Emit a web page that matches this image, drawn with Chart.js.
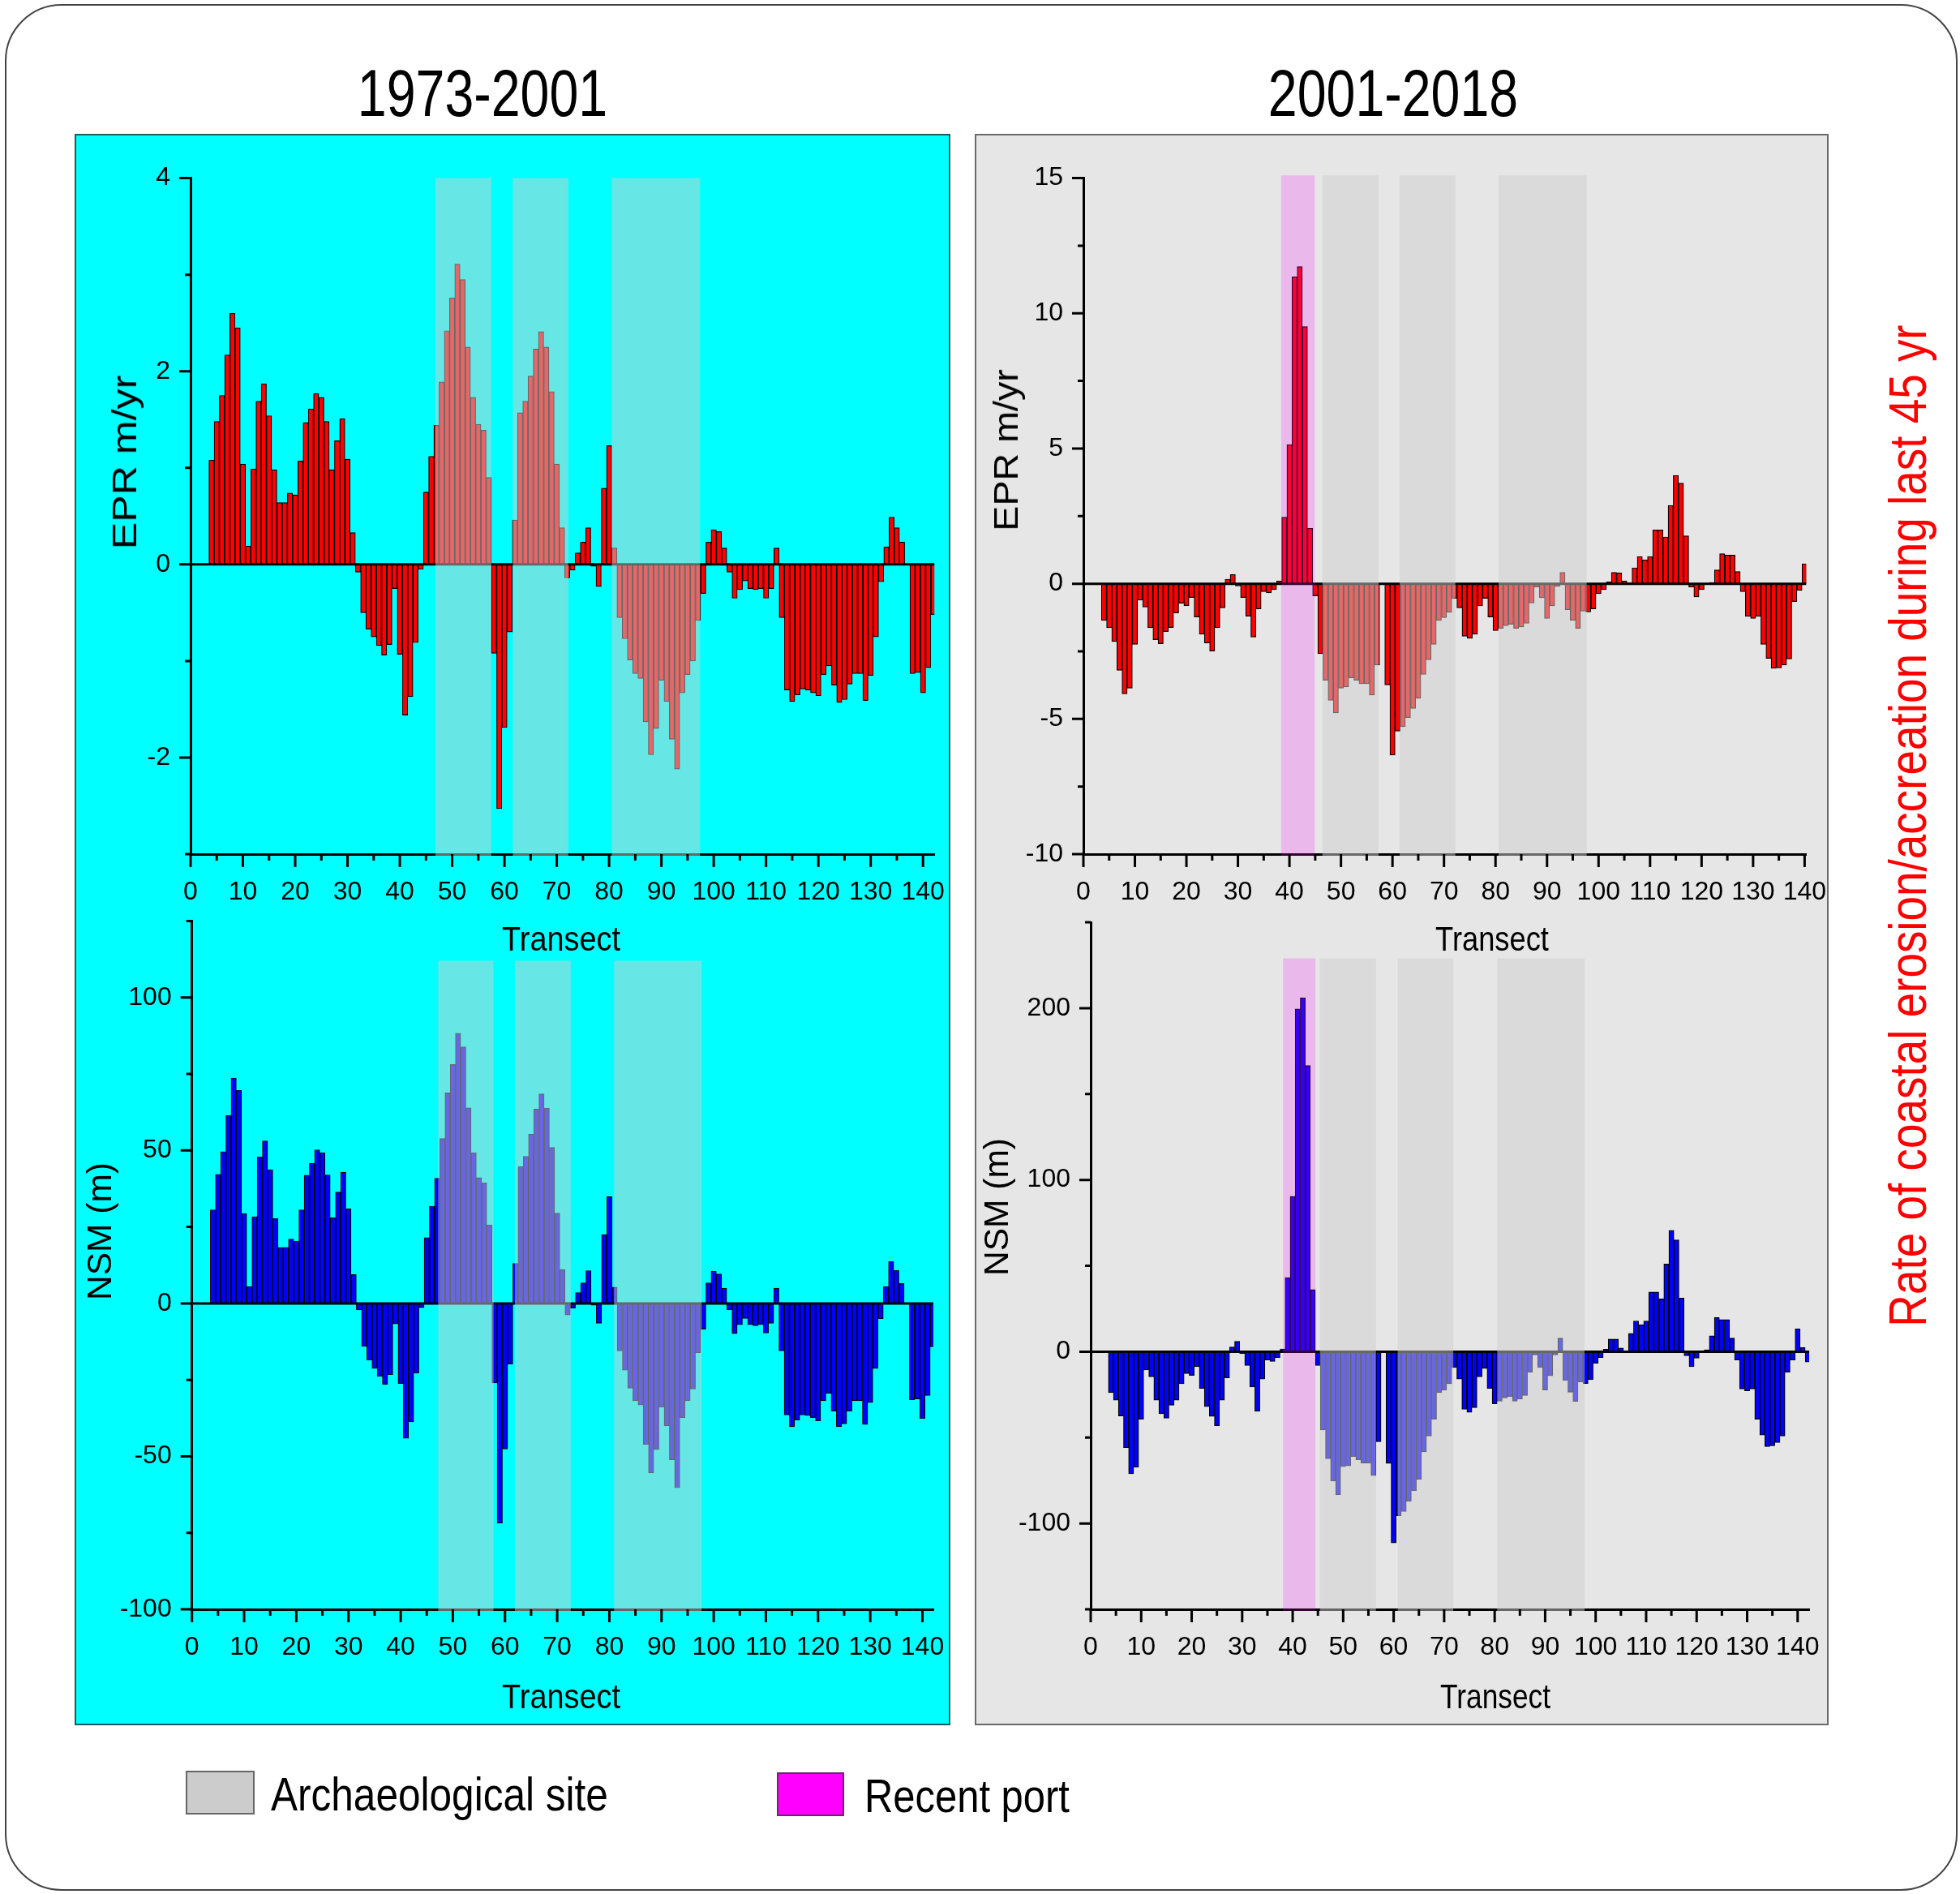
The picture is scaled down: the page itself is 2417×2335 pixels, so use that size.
<!DOCTYPE html>
<html lang="en">
<head>
<meta charset="UTF-8">
<title>EPR and NSM along transects, 1973-2001 and 2001-2018</title>
<script src="https://cdnjs.cloudflare.com/ajax/libs/Chart.js/4.4.1/chart.umd.min.js"></script>
<style>
  body { margin: 0; background: #fff; font-family: 'Liberation Sans', Arial, sans-serif; }
  #page { position: relative; width: 2417px; height: 2335px; overflow: hidden; }
  .frame { position: absolute; left: 6px; top: 5px; width: 2408px; height: 2326px; box-sizing: border-box;
           border: 2px solid #444; border-radius: 70px; }
  .panel { position: absolute; box-sizing: border-box; }
  #panelLeft { left: 92px; top: 165px; width: 1080px; height: 1962px; background: #00ffff; border: 2px solid #1d5c5c; }
  #panelRight { left: 1202px; top: 165px; width: 1053px; height: 1962px; background: #e6e6e6; border: 2px solid #6a6a6a; }
  canvas { position: absolute; }
  .txt { position: absolute; white-space: nowrap; line-height: 1; color: #000; }
  .title { font-size: 81px; }
  .axt { font-size: 42px; }
  .leg { font-size: 58px; }
  .side { font-size: 65px; color: #ff0000; }
  .box { position: absolute; box-sizing: border-box; }
</style>
</head>
<body>
<div id="page">
  <div class="frame"></div>
  <div class="panel" id="panelLeft"></div>
  <div class="panel" id="panelRight"></div>

  <div class="txt title" style="left:595px; top:115px" data-w="308">1973-2001</div>
  <div class="txt title" style="left:1718px; top:115px" data-w="308">2001-2018</div>

  <canvas id="cTL"></canvas>
  <canvas id="cBL"></canvas>
  <canvas id="cTR"></canvas>
  <canvas id="cBR"></canvas>

  <div class="txt axt" style="left:692px; top:1158px" data-w="146">Transect</div>
  <div class="txt axt" style="left:692px; top:2092px" data-w="146">Transect</div>
  <div class="txt axt" style="left:1840px; top:1158px" data-w="140">Transect</div>
  <div class="txt axt" style="left:1844px; top:2092px" data-w="136">Transect</div>

  <div class="txt axt" style="left:154px; top:570px" data-w="215" data-rot="1">EPR m/yr</div>
  <div class="txt axt" style="left:123px; top:1518px" data-w="170" data-rot="1">NSM (m)</div>
  <div class="txt axt" style="left:1241px; top:555px" data-w="200" data-rot="1">EPR m/yr</div>
  <div class="txt axt" style="left:1229px; top:1488px" data-w="170" data-rot="1">NSM (m)</div>

  <div class="txt side" style="left:2352px; top:1018px" data-w="1235" data-rot="1">Rate of coastal erosion/accreation during last 45 yr</div>

  <div class="box" style="left:229px; top:2183px; width:85px; height:54px; background:#cccccc; border:2px solid #666"></div>
  <div class="txt leg" style="left:334px; top:2212px" data-w="416" data-anchor="left">Archaeological site</div>
  <div class="box" style="left:958px; top:2185px; width:83px; height:54px; background:#ff00ff; border:2px solid #6a2a6a"></div>
  <div class="txt leg" style="left:1066px; top:2214px" data-w="253" data-anchor="left">Recent port</div>
</div>

<script>
// transect numbers start at 4 in every series
const firstTransect = 4;

// EPR (m/yr), 1973-2001, transects 4..142
const epr7301 = [
  1.08, 1.48, 1.75, 2.17, 2.60, 2.45, 1.04, 0.19, 0.99, 1.69,
  1.87, 1.54, 0.98, 0.64, 0.64, 0.74, 0.72, 1.07, 1.47, 1.61,
  1.77, 1.73, 1.48, 0.98, 1.28, 1.51, 1.09, 0.33, -0.08, -0.50,
  -0.67, -0.75, -0.84, -0.94, -0.83, -0.25, -0.93, -1.56, -1.37, -0.81,
  -0.05, 0.75, 1.12, 1.44, 1.89, 2.42, 2.76, 3.11, 2.95, 2.25,
  1.73, 1.45, 1.39, 0.90, -0.92, -2.53, -1.69, -0.70, 0.46, 1.57,
  1.69, 1.95, 2.23, 2.41, 2.25, 1.79, 1.04, 0.38, -0.14, -0.06,
  0.12, 0.23, 0.38, -0.02, -0.23, 0.79, 1.23, 0.17, -0.55, -0.77,
  -0.99, -1.13, -1.18, -1.63, -1.97, -1.70, -1.20, -1.42, -1.81, -2.12,
  -1.33, -1.14, -1.00, -0.58, -0.30, 0.23, 0.36, 0.34, 0.17, -0.08,
  -0.35, -0.26, -0.17, -0.25, -0.26, -0.25, -0.35, -0.25, 0.17, -0.55,
  -1.30, -1.42, -1.35, -1.29, -1.30, -1.33, -1.36, -1.14, -1.05, -1.25,
  -1.43, -1.40, -1.24, -1.13, -1.13, -1.41, -1.15, -0.75, -0.18, 0.18,
  0.49, 0.38, 0.23, 0, -1.13, -1.12, -1.33, -1.07, -0.52
];

// NSM (m), 1973-2001, transects 4..142
const nsm7301 = [
  30.6, 42.2, 49.6, 61.5, 73.7, 69.6, 29.4, 5.5, 28.3, 47.9,
  53.1, 43.7, 27.7, 18.3, 18.3, 21.0, 20.4, 30.6, 41.9, 45.8,
  50.2, 49.3, 42.0, 28.0, 36.4, 42.9, 30.9, 9.4, -2.1, -14.0,
  -18.6, -21.3, -23.9, -26.5, -23.3, -6.7, -26.2, -44.1, -38.7, -22.8,
  -1.4, 21.5, 31.8, 40.9, 53.9, 68.8, 78.1, 88.3, 83.9, 63.9,
  49.3, 41.1, 39.4, 25.7, -26.0, -71.8, -47.6, -19.8, 13.1, 44.7,
  48.1, 55.3, 63.5, 68.5, 63.8, 51.0, 29.5, 11.1, -3.8, -1.5,
  3.5, 6.7, 10.7, -0.6, -6.5, 22.5, 34.9, 5.3, -15.5, -21.8,
  -27.7, -31.8, -33.2, -46.1, -55.4, -47.8, -33.9, -40.0, -51.1, -60.3,
  -37.3, -31.8, -28.0, -16.1, -8.4, 6.7, 10.5, 9.6, 5.0, -2.1,
  -9.9, -7.0, -4.9, -7.0, -7.3, -7.0, -9.7, -6.5, 5.0, -15.5,
  -36.5, -40.3, -38.1, -36.5, -36.7, -37.3, -38.4, -31.8, -29.4, -35.2,
  -40.3, -39.4, -35.2, -31.8, -31.8, -39.6, -32.4, -21.3, -5.0, 5.5,
  13.7, 10.8, 6.5, 0, -31.5, -31.2, -37.6, -30.1, -14.2
];

// EPR (m/yr), 2001-2018, transects 4..140
const epr0118 = [
  -1.36, -1.63, -2.14, -3.20, -4.07, -3.86, -2.24, -0.61, -0.86, -1.63,
  -2.07, -2.22, -1.77, -1.62, -1.08, -0.72, -0.81, -0.51, -1.23, -1.87,
  -2.19, -2.49, -1.63, -0.89, 0.17, 0.34, -0.08, -0.51, -1.20, -1.97,
  -0.93, -0.29, -0.34, -0.22, 0.10, 2.46, 5.15, 11.35, 11.73, 9.51,
  2.05, -0.45, -2.59, -3.57, -4.31, -4.78, -3.86, -3.82, -3.48, -3.57,
  -3.70, -3.70, -4.12, -3.01, 0, -3.74, -6.34, -5.45, -5.29, -4.95,
  -4.61, -4.24, -3.35, -2.81, -2.24, -1.36, -1.25, -1.06, -0.54, -0.89,
  -1.94, -2.02, -1.87, -0.82, -0.54, -1.23, -1.73, -1.65, -1.55, -1.50,
  -1.65, -1.60, -1.46, -0.71, -0.12, -0.52, -1.28, -0.82, -0.10, 0.42,
  -0.96, -1.35, -1.65, -1.01, -1.04, -0.93, -0.37, -0.22, 0.07, 0.42,
  0.40, 0.10, 0.03, 0.59, 1.01, 0.88, 1.01, 1.99, 1.99, 1.73,
  2.90, 4.01, 3.72, 1.77, -0.12, -0.49, -0.22, 0.02, 0.05, 0.51,
  1.11, 1.06, 1.06, 0.45, -0.29, -1.21, -1.28, -1.21, -2.24, -2.76,
  -3.13, -3.11, -3.01, -2.78, -0.66, -0.25, 0.74
];

// NSM (m), 2001-2018, transects 4..142
const nsm0118 = [
  -23.9, -28.2, -37.4, -55.9, -71.1, -67.3, -39.3, -10.6, -14.7, -28.2,
  -36.1, -38.8, -31.2, -28.2, -18.7, -12.8, -13.8, -8.7, -21.4, -32.0,
  -37.7, -43.1, -28.2, -15.2, 2.7, 6.0, -1.1, -8.1, -20.6, -34.7,
  -16.0, -4.9, -5.7, -3.5, 1.6, 43.1, 90.4, 199.5, 206.0, 166.6,
  36.1, -8.1, -45.6, -62.4, -75.4, -83.3, -67.0, -66.5, -61.1, -63.0,
  -64.9, -64.9, -72.2, -52.4, 0, -65.1, -111.3, -95.5, -93.1, -87.1,
  -80.9, -74.4, -58.3, -49.1, -39.3, -23.9, -22.5, -18.7, -9.2, -16.0,
  -33.6, -35.3, -32.6, -14.7, -9.8, -21.4, -30.4, -28.8, -26.9, -26.1,
  -28.8, -27.7, -25.5, -11.9, -1.9, -9.2, -22.3, -14.1, -1.9, 7.9,
  -16.8, -23.6, -29.0, -17.6, -18.5, -16.3, -6.8, -3.5, 1.4, 7.3,
  7.3, 2.2, 0.5, 10.6, 17.9, 15.7, 17.9, 34.7, 34.7, 30.7,
  51.0, 70.6, 65.1, 31.2, -2.4, -8.7, -3.8, 0.5, 1.1, 9.2,
  19.8, 18.7, 18.7, 7.9, -4.9, -21.7, -22.8, -21.7, -39.3, -48.6,
  -55.3, -54.8, -52.9, -49.1, -11.9, -4.9, 13.3, 2.4, -6.0
];

// shaded transect ranges (archaeological sites / recent port)
const sitesTL = [[46.8, 57.5], [61.6, 72.2], [80.5, 97.4]];
const sitesBL = [[47.2, 57.8], [61.9, 72.6], [80.9, 97.7]];
const sitesTR = [[46.4, 57.3], [61.4, 72.2], [80.6, 97.7]];
const sitesBR = [[45.4, 56.5], [60.8, 71.8], [80.5, 97.8]];
const portTR = [[38.4, 44.9]];
const portBR = [[38.1, 44.5]];

// axis ticks
const xTicks = [0, 5, 10, 15, 20, 25, 30, 35, 40, 45, 50, 55, 60, 65, 70,
                75, 80, 85, 90, 95, 100, 105, 110, 115, 120, 125, 130, 135, 140];
const xLabelled = [0, 10, 20, 30, 40, 50, 60, 70, 80, 90, 100, 110, 120, 130, 140];
const eprTicksL = [-3, -2, -1, 0, 1, 2, 3, 4];
const eprLabelsL = [-2, 0, 2, 4];
const nsmTicksL = [-100, -75, -50, -25, 0, 25, 50, 75, 100, 125];
const nsmLabelsL = [-100, -50, 0, 50, 100];
const eprTicksR = [-10, -7.5, -5, -2.5, 0, 2.5, 5, 7.5, 10, 12.5, 15];
const eprLabelsR = [-10, -5, 0, 5, 10, 15];
const nsmTicksR = [-150, -100, -50, 0, 50, 100, 150, 200, 250];
const nsmLabelsR = [-100, 0, 100, 200];

// fit html text to measured widths
document.querySelectorAll('.txt').forEach(el => {
  const s = (+el.dataset.w) / el.offsetWidth;
  if (el.dataset.anchor === 'left') {
    el.style.transformOrigin = '0 50%';
    el.style.transform = 'translate(0,-50%) scaleX(' + s + ')';
  } else {
    const rot = el.dataset.rot ? 'rotate(-90deg) ' : '';
    el.style.transform = 'translate(-50%,-50%) ' + rot + 'scaleX(' + s + ')';
  }
});

const tickFont = { family: "'Liberation Sans Narrow', 'Arial Narrow', 'Liberation Sans', Arial, sans-serif", size: 32 };

const shadePlugin = {
  id: 'shade',
  afterDatasetsDraw(chart, args, o) {
    const { ctx, chartArea: a, scales: { x, y } } = chart;
    ctx.save();
    const y0 = y.getPixelForValue(0);
    ctx.strokeStyle = '#000';
    ctx.lineWidth = 3;
    ctx.beginPath();
    ctx.moveTo(a.left, y0);
    ctx.lineTo(a.right, y0);
    ctx.stroke();

    const top = y.getPixelForValue(o.top);
    ctx.fillStyle = 'rgba(255, 0, 255, 0.2)';
    o.port.forEach(r => {
      const x1 = x.getPixelForValue(r[0]), x2 = x.getPixelForValue(r[1]);
      ctx.fillRect(x1, top, x2 - x1, a.bottom + 2 - top);
    });
    ctx.fillStyle = 'rgba(205, 205, 205, 0.5)';
    o.sites.forEach(r => {
      const x1 = x.getPixelForValue(r[0]), x2 = x.getPixelForValue(r[1]);
      ctx.fillRect(x1, top, x2 - x1, a.bottom + 2 - top);
    });
    ctx.restore();
  },
  afterDraw(chart, args, o) {
    const { ctx, chartArea: a, scales: { x, y } } = chart;
    ctx.save();
    ctx.strokeStyle = '#000';
    ctx.lineWidth = 3;
    ctx.beginPath();
    xTicks.forEach(v => {
      const px = x.getPixelForValue(v);
      const len = xLabelled.includes(v) ? 16 : 8;
      ctx.moveTo(px, a.bottom);
      ctx.lineTo(px, a.bottom + len);
    });
    o.yTicks.forEach(v => {
      const py = y.getPixelForValue(v);
      const len = o.yLabels.includes(v) ? 14 : 7;
      ctx.moveTo(a.left, py);
      ctx.lineTo(a.left - len, py);
    });
    ctx.stroke();
    ctx.restore();
  }
};

function makeChart(id, area, xMax, yMin, yMax, yTicks, yLabels, values, color, sites, port, shadeTop) {
  const padL = 160, padT = 40, padR = 60, padB = 90;
  const cv = document.getElementById(id);
  const left = Math.floor(area.l) - padL;
  const top = Math.floor(area.t) - padT;
  const w = Math.ceil(area.r) + padR - left;
  const h = Math.ceil(area.b) + padB - top;
  cv.style.left = left + 'px';
  cv.style.top = top + 'px';
  cv.width = w; cv.height = h;
  cv.style.width = w + 'px'; cv.style.height = h + 'px';

  const yW = area.l - left;
  const xH = top + h - area.b;

  return new Chart(cv.getContext('2d'), {
    type: 'bar',
    data: {
      datasets: [{
        data: values.map((v, i) => ({ x: firstTransect + i, y: v })),
        backgroundColor: color,
        borderColor: '#000',
        borderWidth: 1.2,
        barPercentage: 1,
        categoryPercentage: 1
      }]
    },
    options: {
      responsive: false,
      animation: false,
      layout: { padding: { left: 0, top: area.t - top, right: left + w - area.r, bottom: 0 } },
      plugins: {
        legend: { display: false },
        tooltip: { enabled: false },
        shade: { sites: sites, port: port, top: shadeTop, yTicks: yTicks, yLabels: yLabels }
      },
      scales: {
        x: {
          type: 'linear', min: 0, max: xMax, offset: false,
          grid: { display: false },
          border: { display: true, color: '#000', width: 3 },
          ticks: {
            autoSkip: false, maxRotation: 0, padding: 20, color: '#000', font: tickFont,
            callback: v => xLabelled.includes(v) ? String(v) : ''
          },
          afterBuildTicks: s => { s.ticks = xTicks.map(v => ({ value: v })); },
          afterFit: s => { s.height = xH; s.paddingLeft = 0; s.paddingRight = 0; }
        },
        y: {
          min: yMin, max: yMax,
          grid: { display: false },
          border: { display: true, color: '#000', width: 3 },
          ticks: {
            padding: 17, color: '#000', font: tickFont,
            callback: v => yLabels.includes(v) ? String(v) : ''
          },
          afterBuildTicks: s => { s.ticks = yTicks.map(v => ({ value: v })); },
          afterFit: s => { s.width = yW; s.paddingTop = 0; s.paddingBottom = 0; }
        }
      }
    },
    plugins: [shadePlugin]
  });
}

makeChart('cTL', { l: 235, t: 219.6, r: 1152.2, b: 1053 }, 142.17, -3, 4,
  eprTicksL, eprLabelsL, epr7301, '#ff0000', sitesTL, [], 4);
makeChart('cBL', { l: 236.7, t: 1135.5, r: 1151, b: 1984 }, 142.1, -100, 125,
  nsmTicksL, nsmLabelsL, nsm7301, '#0000ff', sitesBL, [], 112);
makeChart('cTR', { l: 1336, t: 219.6, r: 2227.3, b: 1053 }, 140.3, -10, 15,
  eprTicksR, eprLabelsR, epr0118, '#ff0000', sitesTR, portTR, 15.1);
makeChart('cBR', { l: 1345, t: 1137, r: 2231.1, b: 1984 }, 142.3, -150, 250,
  nsmTicksR, nsmLabelsR, nsm0118, '#0000ff', sitesBR, portBR, 229);
</script>
</body>
</html>
